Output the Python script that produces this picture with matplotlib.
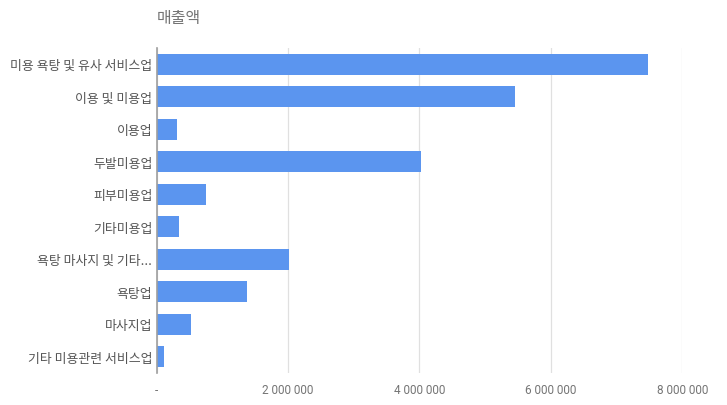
import matplotlib
matplotlib.use('Agg')
import matplotlib.pyplot as plt
from matplotlib.ticker import FuncFormatter

# 업종별 매출액
categories = ['미용 욕탕 및 유사 서비스업', '이용 및 미용업', '이용업', '두발미용업', '피부미용업',
              '기타미용업', '욕탕 마사지 및 기타...', '욕탕업', '마사지업', '기타 미용관련 서비스업']
sales = [7480000, 5460000, 310000, 4020000, 750000,
         340000, 2010000, 1370000, 520000, 110000]
x_ticks = [0, 2000000, 4000000, 6000000, 8000000]

title = '매출액'


def fmt_money(v, pos) -> str:
    '''
    Google-sheet style number: spaces as thousand separators, "-" for zero
    '''
    if v == 0:
        return '-'
    return f'{int(v):,}'.replace(',', ' ')


plt.rcParams['font.family'] = ['Noto Sans CJK KR', 'DejaVu Sans']

fig = plt.figure(figsize=(7.27, 4.06), dpi=100)
ax = fig.add_axes([156.5 / 727, 1 - 374 / 406, (682.3 - 156.5) / 727, (374 - 49) / 406])

pos = list(range(len(categories)))
ax.barh(pos, sales, height=0.65, color='#5b95ef', zorder=3)

ax.set_ylim(len(categories) - 0.5, -0.5)
ax.set_xlim(0, x_ticks[-1])
ax.set_yticks(pos)
ax.set_yticklabels(categories, fontsize=9.3, color='#555555')
ax.set_xticks(x_ticks)
ax.xaxis.set_major_formatter(FuncFormatter(fmt_money))
for lbl in ax.get_xticklabels():
    lbl.set_family(['Roboto', 'DejaVu Sans'])
    lbl.set_fontsize(8.5)
    lbl.set_color('#757575')

ax.tick_params(axis='y', length=0, pad=3)
ax.tick_params(axis='x', length=0, pad=7)
ax.grid(axis='x', color='#e0e0e0', linewidth=0.9, zorder=0)

for side in ['top', 'right', 'bottom']:
    ax.spines[side].set_visible(False)
ax.spines['left'].set_color('#9e9e9e')
ax.spines['left'].set_linewidth(1.2)
ax.spines['left'].set_zorder(4)

fig.text(157 / 727, 1 - 18.5 / 406, title, fontsize=11.5, color='#757575', va='center', ha='left')

fig.savefig('out.png', dpi=100)
